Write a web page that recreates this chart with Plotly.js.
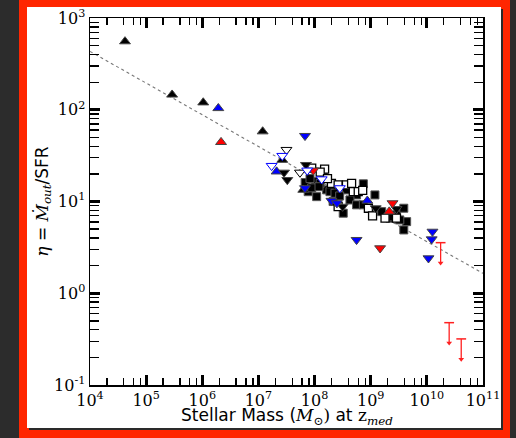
<!DOCTYPE html>
<html>
<head>
<meta charset="utf-8">
<script src="https://cdn.plot.ly/plotly-3.0.1.min.js"></script>
<style>
  html, body { margin: 0; padding: 0; width: 516px; height: 438px; overflow: hidden; background: #2c2c2c; }
  #frame { position: absolute; left: 19px; top: 0px; width: 491px; height: 438px; background: rgb(255,38,0); }
  #plot { position: absolute; left: 27px; top: 7px; width: 474px; height: 421px; background: #ffffff; box-shadow: 2px 2px 0 #2a2a2a; }
</style>
</head>
<body>
<div id="frame"></div>
<div id="plot"></div>
<script>
// ---- data (stellar mass in Msun, eta = Mdot_out / SFR) ----
const xTickVals = [1e4, 1e5, 1e6, 1e7, 1e8, 1e9, 1e10, 1e11];
const xTickText = ['10<sup>4</sup>', '10<sup>5</sup>', '10<sup>6</sup>', '10<sup>7</sup>',
                   '10<sup>8</sup>', '10<sup>9</sup>', '10<sup>10</sup>', '10<sup>11</sup>'];
const yTickVals = [0.1, 1, 10, 100, 1000];
const yTickText = ['10<sup>-1</sup>', '10<sup>0</sup>', '10<sup>1</sup>', '10<sup>2</sup>', '10<sup>3</sup>'];

const fitX = [1e4, 1e11];
const fitY = [433, 1.65];

const blkUpX = [4.2e4, 2.9e5, 1.04e6, 1.19e7, 2.66e7, 6.3e7];
const blkUpY = [556, 146, 120, 58, 28.4, 13.4];

const bluUpX = [1.93e6, 2.11e7, 8.7e8];
const bluUpY = [104, 21.2, 10.2];

const redUpX = [2.16e6, 2.14e9];
const redUpY = [44.4, 7.76];

const blkDnX = [2.86e7, 3.27e7, 7.03e7, 3.16e8, 1.23e9, 2.88e9];
const blkDnY = [20.7, 17.2, 25.1, 8.8, 8.45, 8.3];

const bluDnX = [6.76e7, 6.76e7, 2.0e8, 2.5e8, 5.6e8, 1.26e10, 1.22e10, 1.07e10];
const bluDnY = [52, 14.0, 10.2, 9.6, 3.82, 4.7, 3.88, 2.41];

const redDnX = [9.5e7, 2.45e9, 1.47e9];
const redDnY = [21.8, 9.6, 3.1];

const openBlkDnX = [3.16e7, 5.5e7];
const openBlkDnY = [36.6, 20.7];

const openBluDnX = [1.72e7, 2.66e7, 7.4e7, 1.34e8, 2.82e8];
const openBluDnY = [24.5, 31.5, 21.8, 17.5, 14.0];

const blkSqX = [6.8e7, 1.02e8, 1.43e8, 7.7e7, 1.09e8, 1.64e8, 1.88e8, 2.31e8, 3.7e8, 7.4e8,
                1.19e9, 5.6e8, 2.14e8, 3.24e8, 4.27e8, 5.6e8, 7.4e8, 1.57e9, 2.21e9, 2.88e9,
                3.89e9, 4.37e9, 3.89e9, 8.9e7, 1.26e8, 2.8e8, 3.3e9, 2.5e9, 8.3e7, 1.2e8];
const blkSqY = [16.1, 16.5, 18.7, 12.8, 11.3, 13.4, 12.8, 12.3, 13.4, 15.6,
                11.8, 11.8, 10.0, 7.46, 10.4, 9.2, 9.2, 7.76, 6.58, 7.14,
                8.45, 6.04, 4.9, 14.1, 15.8, 11.5, 6.3, 6.8, 17.8, 14.5];

const openSqX = [8.9e7, 1.51e8, 2.0e8, 2.63e8, 3.7e8, 4.57e8, 4.9e8, 6.0e8, 2.63e8, 9.1e8,
                 1.08e9, 1.8e9, 2.88e9, 1.26e8, 1.7e8, 7.2e8];
const openSqY = [23.1, 22.5, 15.8, 15.2, 15.2, 15.8, 12.8, 12.8, 8.8, 8.45,
                 6.97, 6.58, 6.58, 20.9, 17.8, 13.2];

const limX = [1.76e10, 2.5e10, 4.1e10];
const limY = [3.56, 0.478, 0.318];
const limDrop = 0.6; // arrow extends to limY * limDrop

// ---- traces ----
const edge = {color: '#444', width: 1};
function pts(x, y, symbol, fill, line, size) {
  return {x: x, y: y, type: 'scatter', mode: 'markers', hoverinfo: 'skip',
          marker: {symbol: symbol, color: fill, size: size, line: line}};
}

const traces = [
  {x: fitX, y: fitY, type: 'scatter', mode: 'lines', hoverinfo: 'skip',
   line: {color: '#777', width: 1.1, dash: 'dot'}},
  pts(blkSqX, blkSqY, 'square', '#000', {color: '#555', width: 1}, 8),
  pts(openSqX, openSqY, 'square', '#fff', {color: '#000', width: 1.3}, 8),
  pts(blkUpX, blkUpY, 'triangle-up', '#000', edge, 9.5),
  pts(bluUpX, bluUpY, 'triangle-up', '#0000ff', edge, 9.5),
  pts(redUpX, redUpY, 'triangle-up', '#ff0000', edge, 9.5),
  pts(blkDnX, blkDnY, 'triangle-down', '#000', edge, 9.5),
  pts(bluDnX, bluDnY, 'triangle-down', '#0000ff', edge, 9.5),
  pts(redDnX, redDnY, 'triangle-down', '#ff0000', edge, 9.5),
  pts(openBlkDnX, openBlkDnY, 'triangle-down', '#fff', {color: '#000', width: 1}, 9.5),
  pts(openBluDnX, openBluDnY, 'triangle-down', '#fff', {color: '#0000ff', width: 1}, 9.5),
  {x: limX, y: limY, type: 'scatter', mode: 'markers', hoverinfo: 'skip',
   marker: {symbol: 'line-ew', size: 7, color: '#ff2020', line: {color: '#ff2020', width: 1.5}},
   error_y: {type: 'data', symmetric: false, array: limY.map(() => 0),
             arrayminus: limY.map(v => v - v * limDrop), color: '#ff2020', thickness: 1.3, width: 0}},
  {x: limX, y: limY.map(v => v * limDrop), type: 'scatter', mode: 'markers', hoverinfo: 'skip',
   marker: {symbol: 'triangle-down', size: 5, color: '#ff2020', line: {width: 0}}}
];

const serif = 'DejaVu Serif';
const axisCommon = {
  type: 'log', showgrid: false, zeroline: false,
  showline: true, linecolor: '#000', linewidth: 1.5, mirror: 'allticks',
  ticks: 'inside', ticklen: 10, tickwidth: 3, tickcolor: '#000',
  tickmode: 'array', ticklabeloverflow: 'allow',
  tickfont: {family: serif, size: 16, color: '#000'}
};

const xMinor = [];
for (let e = 4; e < 11; e++) { [2, 4, 6, 8].forEach(m => xMinor.push(m * Math.pow(10, e))); }
const yMinor = [];
for (let e = -1; e < 3; e++) { [2, 3, 4, 5, 6, 7, 8, 9].forEach(m => yMinor.push(m * Math.pow(10, e))); }

const layout = {
  width: 474, height: 421,
  margin: {l: 63, r: 18, t: 11, b: 43},
  paper_bgcolor: '#ffffff', plot_bgcolor: '#ffffff',
  showlegend: false,
  xaxis: Object.assign({}, axisCommon, {
    range: [4, 11.0005],
    tickvals: xTickVals, ticktext: xTickText, tickangle: 0,
    minor: {tickmode: 'array', tickvals: xMinor,
            ticks: 'inside', ticklen: 7, tickwidth: 1.3, tickcolor: '#000', showgrid: false}
  }),
  yaxis: Object.assign({}, axisCommon, {
    range: [-1, 3.0005],
    tickvals: yTickVals, ticktext: yTickText,
    minor: {tickmode: 'array', tickvals: yMinor,
            ticks: 'inside', ticklen: 9, tickwidth: 1.3, tickcolor: '#000', showgrid: false},
    title: {text: '<span style="font-family:DejaVu Serif"><i>η</i></span> = <span style="font-family:DejaVu Serif"><i>Ṁ</i><sub><i>out</i></sub></span>/SFR',
            font: {family: 'DejaVu Sans', size: 17, color: '#000'}, standoff: 1}
  }),
  annotations: [{
    text: 'Stellar Mass (<span style="font-family:DejaVu Serif"><i>M</i><sub>⊙</sub>)</span> at <span style="font-family:DejaVu Serif">z<sub><i>med</i></sub></span>',
    xref: 'paper', yref: 'paper', x: 0.5, y: -0.086, xanchor: 'center', yanchor: 'middle',
    showarrow: false, font: {family: 'DejaVu Sans', size: 17, color: '#000'}
  }]
};

Plotly.newPlot('plot', traces, layout, {displayModeBar: false, staticPlot: true});
</script>
</body>
</html>
